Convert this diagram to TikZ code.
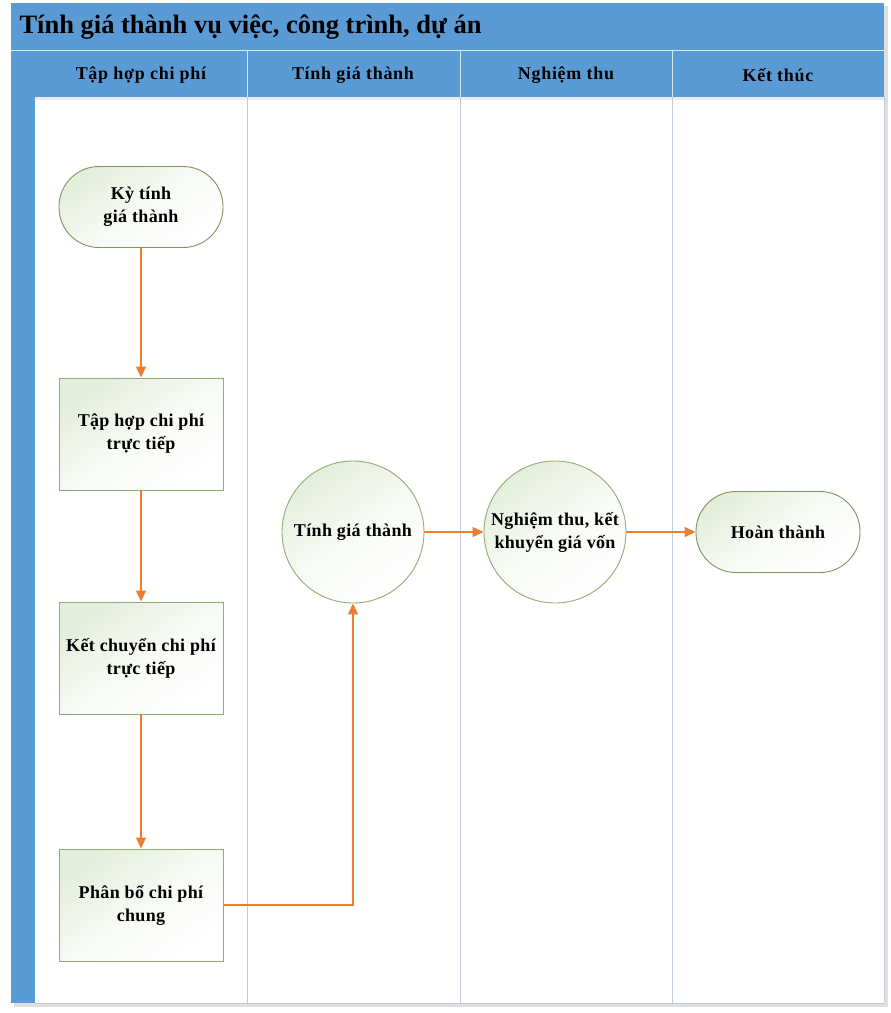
\documentclass[tikz,border=0pt]{standalone}
\usepackage{fontspec}
\setmainfont{Liberation Serif}
\usetikzlibrary{arrows.meta,shadows}
\definecolor{hdrblue}{HTML}{5B9BD5}
\definecolor{laneline}{HTML}{BFCBDC}
\definecolor{nodeborder}{HTML}{8EAE74}
\definecolor{termborder}{HTML}{7E9360}
\definecolor{nodefill}{HTML}{E4EEDC}
\definecolor{flow}{HTML}{ED7D31}
\tikzset{
  procbox/.style={draw=nodeborder, line width=0.9pt, minimum width=164pt, minimum height=112pt,
    top color=nodefill, bottom color=white, middle color=white!70!nodefill, shading angle=35, align=center,
    font=\fontsize{18}{23}\selectfont\bfseries\addfontfeatures{LetterSpace=2}, inner sep=0pt},
  termbox/.style={procbox, draw=termborder, minimum height=81pt, rounded corners=40pt},
  circbox/.style={procbox, circle, minimum width=142pt, minimum height=142pt},
  flowline/.style={draw=flow, line width=1.3pt, -{Triangle[length=11pt,width=10pt]}},
  lanehdr/.style={font=\fontsize{18}{20}\selectfont\bfseries\addfontfeatures{LetterSpace=4}},
}
\begin{document}
\begin{tikzpicture}[x=1pt,y=-1pt]
\useasboundingbox (0,0) rectangle (891,1013);
% frame shadow
\fill[black!12] (14,6) rectangle (888,1007);
\fill[white] (11,3) rectangle (884,1003);
% title band
\fill[hdrblue] (11,3) rectangle (884,50);
\node[anchor=west, font=\fontsize{26.5}{28}\selectfont\bfseries] (title) at (16,27) {Tính giá thành vụ việc, công trình, dự án};
% left bar
\fill[hdrblue] (11,50) rectangle (35,1003);
% header row
\fill[black!8] (35,97) rectangle (884,100);
\fill[hdrblue] (35,50) rectangle (884,97);
\draw[white!80!hdrblue, line width=0.8pt] (11,50) -- (884,50);
\foreach \xx in {247,460,672} {
  \draw[white!75!hdrblue, line width=0.8pt] (\xx,50) -- (\xx,97);
  \draw[laneline, line width=1pt] (\xx,97) -- (\xx,1003);
}
\draw[laneline, line width=1pt] (35,1003) -- (884,1003);
\draw[laneline, line width=1pt] (884,97) -- (884,1003);
\node[lanehdr] (h1) at (141,75) {Tập hợp chi phí};
\node[lanehdr] (h2) at (353,75) {Tính giá thành};
\node[lanehdr] (h3) at (566,75) {Nghiệm thu};
\node[lanehdr] (h4) at (778,75) {Kết thúc};
% nodes
\node[termbox] (ky) at (141,207) {Kỳ tính\\giá thành};
\node[procbox] (tap) at (141,434) {Tập hợp chi phí\\trực tiếp};
\node[procbox] (ket) at (141,658) {Kết chuyển chi phí\\trực tiếp};
\node[procbox] (phan) at (141,905) {Phân bổ chi phí\\chung};
\node[circbox] (tinh) at (353,532) {Tính giá thành};
\node[circbox] (nghiem) at (555,532) {Nghiệm thu, kết\\khuyển giá vốn};
\node[termbox] (hoan) at (778,532) {Hoàn thành};
% connectors
\draw[flowline] (ky) -- (tap);
\draw[flowline] (tap) -- (ket);
\draw[flowline] (ket) -- (phan);
\draw[flowline] (phan.east) -| (tinh.south);
\draw[flowline] (tinh) -- (nghiem);
\draw[flowline] (nghiem) -- (hoan);
\end{tikzpicture}
\end{document}
